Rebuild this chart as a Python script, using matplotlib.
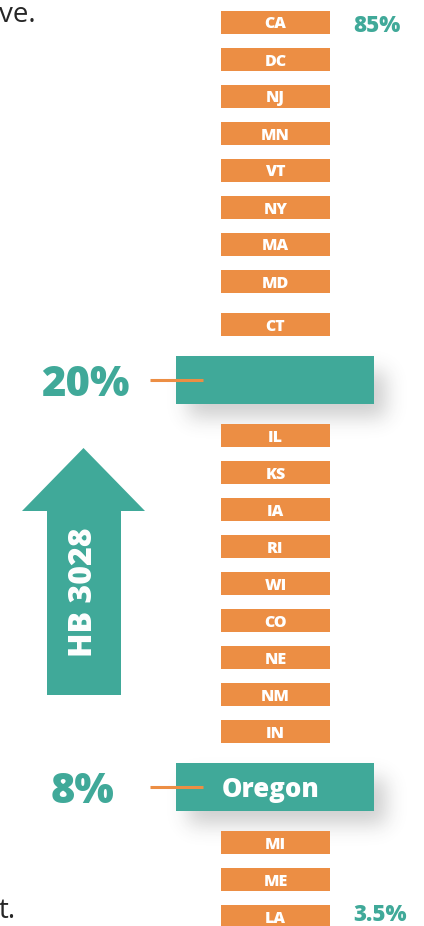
import math
import numpy as np
import matplotlib
matplotlib.use('Agg')
from matplotlib import pyplot as plt
from matplotlib.patches import Polygon

plt.rcParams['font.family'] = ['Open Sans', 'DejaVu Sans']

# rows from top (highest rate) to bottom (lowest rate)
states_top = ['CA', 'DC', 'NJ', 'MN', 'VT', 'NY', 'MA', 'MD', 'CT']
states_mid = ['IL', 'KS', 'IA', 'RI', 'WI', 'CO', 'NE', 'NM', 'IN']
states_bot = ['MI', 'ME', 'LA']
top_rate = '85%'
bottom_rate = '3.5%'
target_label = ''
target_rate = '20%'
oregon_label = 'Oregon'
oregon_rate = '8%'
arrow_label = 'HB 3028'

TEAL = '#40a999'
ORANGE = '#ec8e44'
W, H = 424, 926
WEIGHT = 'heavy'

rows = ([(s, False) for s in states_top] + [(target_label, True)] +
        [(s, False) for s in states_mid] + [(oregon_label, True)] +
        [(s, False) for s in states_bot])

# slot positions: highlighted rows take two slots, CT sits a little lower
extra_gap = {'CT': 0.17}
centers = []
prev = None
for label, hl in rows:
    size = 2 if hl else 1
    if prev is None:
        centers.append(0.0)
    else:
        centers.append(centers[-1] + (prev + size) / 2 + extra_gap.get(label, 0))
    prev = size

pitch = 37.0
y0 = 22.5
ytop = -y0 / pitch
ybot = (H - y0) / pitch


def to_px(slot):
    return y0 + slot * pitch


fig = plt.figure(figsize=(W / 100, H / 100), dpi=100)
ax = fig.add_axes([0, 0, 1, 1])
ax.set_xlim(0, W)
ax.set_ylim(ybot, ytop)
ax.axis('off')

# soft drop shadows under the highlighted bars
xs = np.arange(W) + 0.5
ys = np.arange(H) + 0.5
erf = np.vectorize(math.erf)
alpha = np.zeros((H, W))
sig = 10.0
for (label, hl), c in zip(rows, centers):
    if not hl:
        continue
    x1, x2 = 176 + 12, 374 + 12
    cy = to_px(c) + 14
    y1, y2 = cy - 23, cy + 23
    fx = 0.5 * (erf((xs - x1) / (sig * 1.414)) - erf((xs - x2) / (sig * 1.414)))
    fy = 0.5 * (erf((ys - y1) / (sig * 1.414)) - erf((ys - y2) / (sig * 1.414)))
    alpha = np.maximum(alpha, np.outer(fy, fx) * 0.24)
shadow = np.zeros((H, W, 4))
shadow[..., :3] = 0.2
shadow[..., 3] = alpha
ax.imshow(shadow, extent=(0, W, ybot, ytop), origin='upper', aspect='auto',
          interpolation='bilinear', zorder=1)

for (label, hl), c in zip(rows, centers):
    if hl:
        ax.barh(c, 198, left=176, height=48 / pitch, color=TEAL, zorder=2)
        ax.text(271, c, label, color='white', fontsize=18.5, fontweight=WEIGHT,
                ha='center', va='center_baseline', zorder=4)
    else:
        ax.barh(c, 109, left=221, height=23 / pitch, color=ORANGE, zorder=2)
        ax.text(275.5, c, label, color='white', fontsize=11.5, fontweight=WEIGHT,
                ha='center', va='center_baseline', zorder=4)

# rate annotations
ax.text(377, centers[0], top_rate, color=TEAL, fontsize=16, fontweight=WEIGHT,
        ha='center', va='center_baseline')
ax.text(380, centers[-1] - 0.12, bottom_rate, color=TEAL, fontsize=16,
        fontweight=WEIGHT, ha='center', va='center_baseline')

hl_rows = [c for (label, hl), c in zip(rows, centers) if hl]
for c, txt, tx in zip(hl_rows, [target_rate, oregon_rate], [85, 82]):
    ax.text(tx, c, txt, color=TEAL, fontsize=30, fontweight=WEIGHT,
            ha='center', va='center_baseline')
    ax.plot([150, 203], [c, c], color=ORANGE, lw=2.2, zorder=3,
            solid_capstyle='butt')

# arrow and surrounding text in pixel coordinates
ov = fig.add_axes([0, 0, 1, 1])
ov.set_xlim(0, W)
ov.set_ylim(H, 0)
ov.axis('off')
ov.patch.set_alpha(0)
arrow = Polygon([(47, 695), (47, 511), (22, 511), (83.5, 448), (145, 511),
                 (121, 511), (121, 695)], closed=True, color=TEAL, lw=0)
ov.add_patch(arrow)
ov.text(84, 592, arrow_label, color='white', fontsize=23, fontweight=WEIGHT,
        rotation=90, ha='center', va='center')

ov.text(-1, 12, 've.', color='#262626', fontsize=20, ha='left',
        va='center_baseline')
ov.text(-1, 907, 't.', color='#262626', fontsize=20, ha='left',
        va='center_baseline')

fig.savefig('out.png', dpi=100)
